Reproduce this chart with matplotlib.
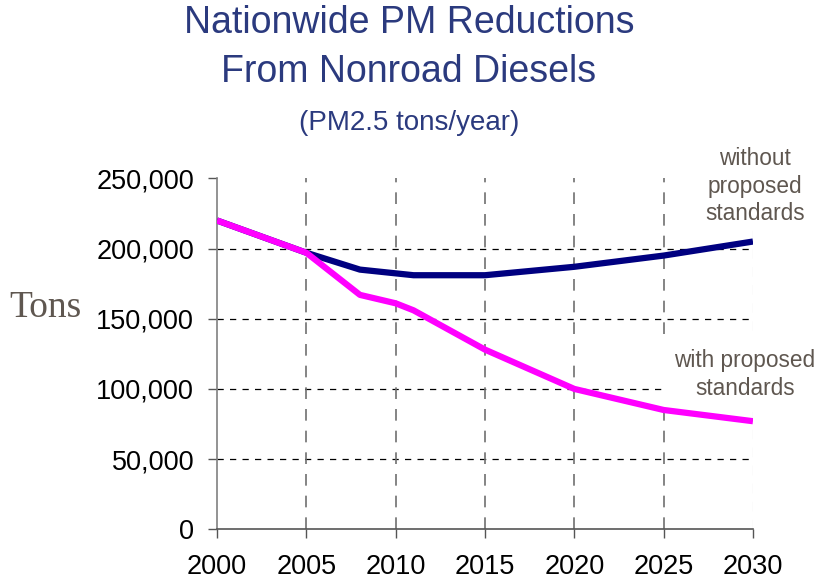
import matplotlib
matplotlib.use('Agg')
import matplotlib.pyplot as plt
from matplotlib.ticker import FuncFormatter

plt.rcParams['font.family'] = ['Liberation Sans', 'DejaVu Sans']

# PM2.5 tons/year
years_without = [2000, 2005, 2008, 2011, 2015, 2020, 2025, 2030]
pm_without = [220000, 197000, 185000, 181000, 181000, 187000, 195000, 205000]

years_with = [2000, 2005, 2008, 2010, 2011, 2015, 2020, 2025, 2030]
pm_with = [220000, 197000, 167000, 161000, 156000, 128000, 100000, 85000, 77000]

x_ticks = [2000, 2005, 2010, 2015, 2020, 2025, 2030]
y_ticks = [0, 50000, 100000, 150000, 200000, 250000]

title_col = '#2B3A7E'
note_col = '#5F5750'

fig = plt.figure(figsize=(8.14, 5.81), dpi=100)
ax = fig.add_axes([0.2666, 0.089, 0.6584, 0.604])

# grid lines
for yv in y_ticks[1:-1]:
    ax.axhline(yv, color='black', lw=0.9, ls=(0, (5, 5)), zorder=1)
for xv in x_ticks[1:-1]:
    ax.axvline(xv, color='#707070', lw=1.2, ls=(0, (7, 6)), zorder=1)
ax.axvline(x_ticks[-1], color='#eeeeee', lw=1.0, ls=(0, (7, 6)), zorder=1)

ax.plot(years_without, pm_without, color='#000080', lw=4.5, solid_joinstyle='round',
        solid_capstyle='butt', zorder=3)
ax.plot(years_with, pm_with, color='#FF00FF', lw=4.5, solid_joinstyle='round',
        solid_capstyle='butt', zorder=4)

ax.set_xlim(2000, 2030)
ax.set_ylim(0, 250000)
ax.set_xticks(x_ticks)
ax.set_yticks(y_ticks)
ax.yaxis.set_major_formatter(FuncFormatter(lambda v, p: f'{int(v):,}'))
ax.tick_params(direction='out', length=6.5, width=1, colors='#555555',
               labelcolor='black', labelsize=19.5, pad=10)
ax.tick_params(axis='x', pad=11.5)

for s in ['top', 'right']:
    ax.spines[s].set_visible(False)
ax.spines['left'].set_color('#808080')
ax.spines['bottom'].set_color('#555555')
ax.spines['left'].set_linewidth(1.2)
ax.spines['bottom'].set_linewidth(1.2)

fig.text(0.5025, 1 - 33 / 581, 'Nationwide PM Reductions', ha='center',
         va='baseline', fontsize=27, color=title_col)
fig.text(0.5025, 1 - 82 / 581, 'From Nonroad Diesels', ha='center',
         va='baseline', fontsize=27, color=title_col)
fig.text(0.5025, 1 - 130 / 581, '(PM2.5 tons/year)', ha='center', va='baseline',
         fontsize=20, color=title_col)

fig.text(0.056, 0.47, 'Tons', ha='center', va='center', fontsize=27,
         family=['Liberation Serif', 'DejaVu Serif'], color=note_col)

# series labels sit on white boxes that hide the grid behind them
ax.text(0.9275, 1 - 186 / 581, 'without\nproposed\nstandards', transform=fig.transFigure,
        ha='center', va='center', fontsize=16.3, color=note_col, linespacing=1.25,
        zorder=2, clip_on=False,
        bbox=dict(facecolor='white', edgecolor='none', pad=2))
ax.text(0.915, 1 - 374.5 / 581, 'with proposed\nstandards', transform=fig.transFigure,
        ha='center', va='center', fontsize=16.3, color=note_col, linespacing=1.25,
        zorder=2, clip_on=False,
        bbox=dict(facecolor='white', edgecolor='none', pad=9))

fig.savefig('out.png', dpi=100)
